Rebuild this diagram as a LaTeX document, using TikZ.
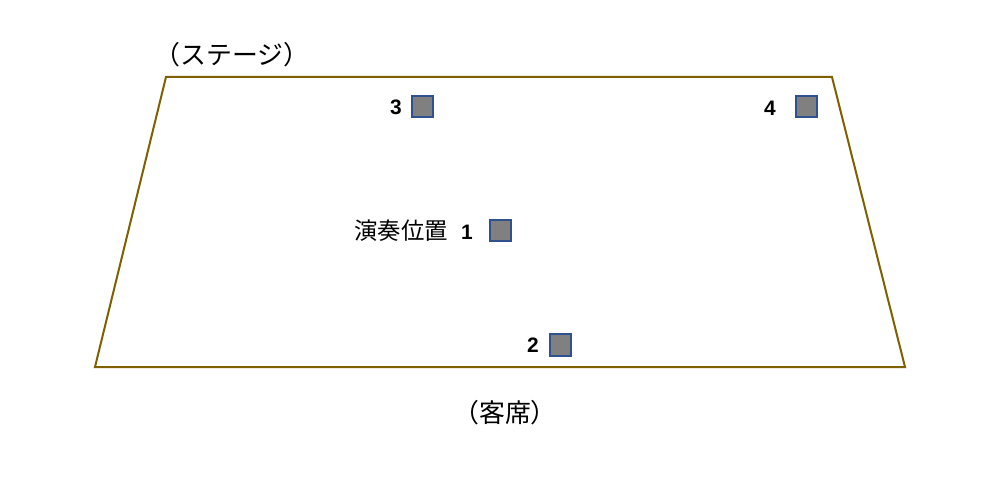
\documentclass[tikz,border=0pt]{standalone}
\usepackage{fontspec}
\setmainfont{Liberation Sans}
\newfontfamily\jp{Noto Sans CJK JP}
\begin{document}
\begin{tikzpicture}[x=1bp,y=-1bp,
  mark box/.style={draw=marker blue,fill=marker gray,line width=2bp,minimum size=21bp,inner sep=0pt},
  num/.style={font=\fontsize{21}{24}\selectfont\bfseries,inner sep=0pt},
  jtext/.style={font=\jp\fontsize{23.5}{26}\selectfont,inner sep=0pt},
  paren text/.style={font=\jp\fontsize{26}{29}\selectfont,inner sep=0pt}]
\definecolor{marker blue}{HTML}{2F528F}
\definecolor{marker gray}{HTML}{808080}
\definecolor{stage olive}{HTML}{7F6000}
\useasboundingbox (0,0) rectangle (994,486);
\coordinate (tl) at (166,77);
\coordinate (tr) at (832,77);
\coordinate (br) at (905,367);
\coordinate (bl) at (95,367);
\draw[stage olive,line width=2bp] (tl) -- (tr) -- (br) -- (bl) -- cycle;
\node[mark box] (m3) at (422,107) {};
\node[mark box] (m4) at (806,107) {};
\node[mark box] (m1) at (500,231) {};
\node[mark box] (m2) at (560,345) {};
\node[num] (n3) at (396,107) {3};
\node[num] (n4) at (770,108) {4};
\node[num] (n1) at (467,232) {1};
\node[num] (n2) at (533,345) {2};
\node[jtext] (play) at (401,231) {演奏位置};
\node[paren text] (stage) at (232,55) {（ステージ）};
\node[paren text] (seats) at (505,413) {（客席）};
\end{tikzpicture}
\end{document}
